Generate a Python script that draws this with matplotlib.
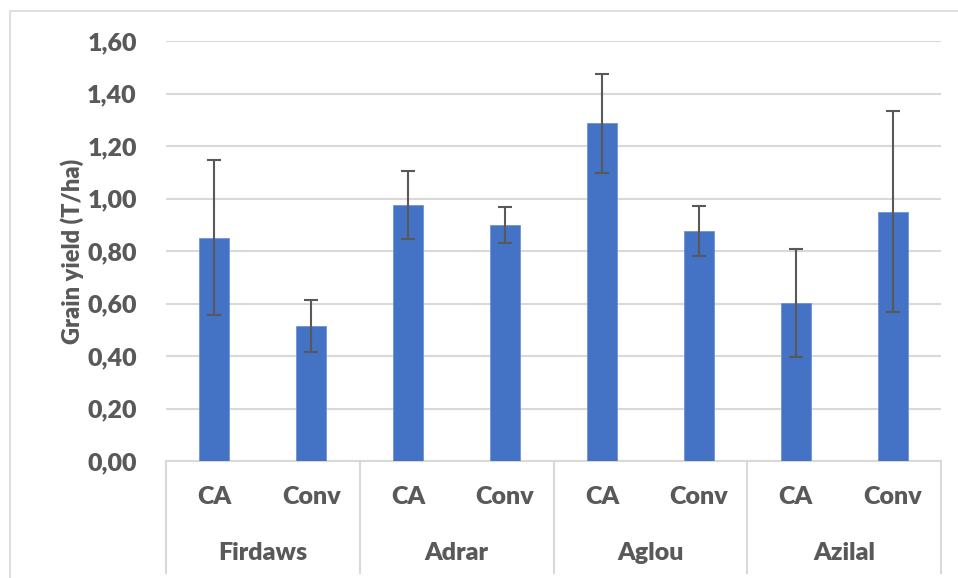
import matplotlib
matplotlib.use("Agg")
import matplotlib.pyplot as plt
import matplotlib.transforms as mtransforms
import numpy as np

# Grain yield per site and practice
sites = ["Firdaws", "Adrar", "Aglou", "Azilal"]
practices = ["CA", "Conv"]
yield_mean = [0.85, 0.514, 0.974, 0.899, 1.286, 0.875, 0.602, 0.950]
yield_err = [0.295, 0.099, 0.130, 0.070, 0.188, 0.095, 0.206, 0.383]
y_ticks = [0.0, 0.2, 0.4, 0.6, 0.8, 1.0, 1.2, 1.4, 1.6]

TEXT = "#595959"
GRID = "#d9d9d9"
BAR = "#4472C4"
FONT = "Lato"

W, H = 958, 578
fig = plt.figure(figsize=(W / 100, H / 100), dpi=100)

# outer chart frame (cropped on right/bottom)
frame = plt.Rectangle((9.5 / W, -0.01), 1.0, 1 - 10.5 / H - (-0.01),
                      transform=fig.transFigure, fill=False,
                      edgecolor=GRID, linewidth=1.2)
fig.patches.append(frame)

ax = fig.add_axes([166 / W, (H - 461) / H, 775 / W, 420 / H])

n = len(yield_mean)
x = np.arange(n)
ax.bar(x, yield_mean, width=0.31, color=BAR, edgecolor="#6f93d6",
       linewidth=0.6, zorder=3)
ax.errorbar(x, yield_mean, yerr=yield_err, fmt="none", ecolor=TEXT,
            elinewidth=1.5, capsize=5, capthick=1.5, zorder=4)

ax.set_xlim(-0.5, n - 0.5)
ax.set_ylim(0, 1.6)
ax.set_yticks(y_ticks)
ax.set_yticklabels([f"{v:.2f}".replace(".", ",") for v in y_ticks],
                   fontsize=18, fontweight="heavy", color=TEXT, family=FONT)
ax.tick_params(axis="y", length=0, pad=21)
ax.set_xticks([])
ax.yaxis.grid(True, color=GRID, linewidth=1.5, zorder=0)
for s in ["top", "right", "left"]:
    ax.spines[s].set_visible(False)
ax.spines["bottom"].set_color(GRID)
ax.spines["bottom"].set_linewidth(1.5)

ax.set_ylabel("Grain yield (T/ha)", fontsize=17, fontweight="heavy",
              color=TEXT, family=FONT, labelpad=2)

# multi-level category axis
trans = mtransforms.blended_transform_factory(ax.transData, fig.transFigure)
y_practice = 1 - 497 / H
y_site = 1 - 553 / H
y_line_bot = 1 - 573 / H
y_line_top = 1 - 461 / H
for i in range(n):
    fig.text(0, 0, practices[i % 2], transform=trans, fontsize=18,
             fontweight="heavy", color=TEXT, family=FONT,
             ha="center", va="center").set_position((x[i], y_practice))
for g, site in enumerate(sites):
    center = 2 * g + 0.5
    fig.text(0, 0, site, transform=trans, fontsize=18, fontweight="heavy",
             color=TEXT, family=FONT, ha="center",
             va="center").set_position((center, y_site))
for b in np.arange(-0.5, n, 2):
    line = plt.Line2D([b, b], [y_line_bot, y_line_top], transform=trans,
                      color=GRID, linewidth=1.5)
    fig.lines.append(line)

fig.savefig("out.png", dpi=100)
